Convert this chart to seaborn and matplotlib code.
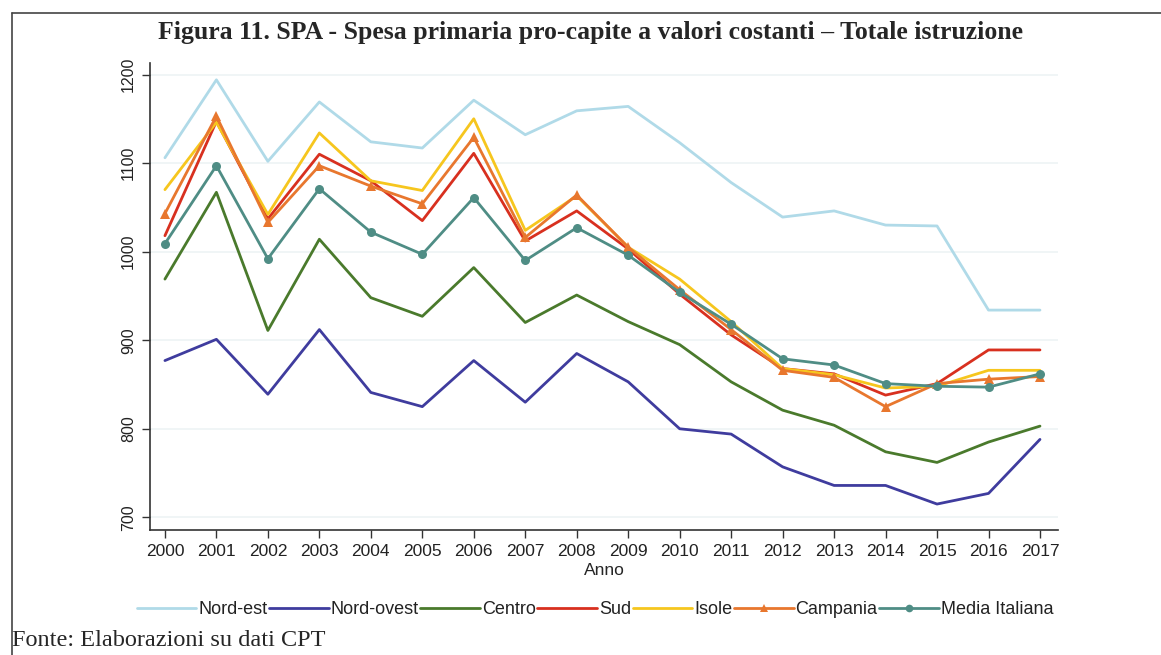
import numpy as np
import pandas as pd
import matplotlib
matplotlib.use("Agg")
import matplotlib.pyplot as plt
import seaborn as sns
from matplotlib.lines import Line2D

years = list(range(2000, 2018))
nord_est = [1106, 1194, 1102, 1169, 1124, 1117, 1171, 1132, 1159, 1164, 1123, 1078, 1039, 1046, 1030, 1029, 934, 934]
nord_ovest = [877, 901, 839, 912, 841, 825, 877, 830, 885, 853, 800, 794, 757, 736, 736, 715, 727, 788]
centro = [969, 1067, 911, 1014, 948, 927, 982, 920, 951, 921, 895, 853, 821, 804, 774, 762, 785, 803]
sud = [1018, 1147, 1037, 1110, 1080, 1035, 1111, 1012, 1046, 1003, 952, 906, 868, 862, 838, 851, 889, 889]
isole = [1070, 1146, 1042, 1134, 1080, 1069, 1150, 1024, 1063, 1005, 969, 921, 868, 861, 846, 848, 866, 866]
campania = [1043, 1153, 1033, 1097, 1074, 1054, 1129, 1016, 1064, 1005, 957, 912, 866, 858, 825, 851, 856, 859]
media = [1009, 1097, 992, 1071, 1022, 997, 1061, 990, 1027, 996, 954, 918, 879, 872, 851, 848, 847, 862]

series_names = ["Nord-est", "Nord-ovest", "Centro", "Sud", "Isole", "Campania", "Media Italiana"]
series_vals = [nord_est, nord_ovest, centro, sud, isole, campania, media]
colors = ["#b0dae8", "#3f3c9e", "#4a7a2c", "#d8301f", "#f6c61e", "#e8772e", "#4f8d85"]
markers = [None, None, None, None, None, "^", "o"]

sns.set_theme(style="white")
plt.rcParams['font.family'] = ['Liberation Sans', 'DejaVu Sans']

fig = plt.figure(figsize=(11.61, 6.55), dpi=100)
ax = fig.add_axes([150/1161, 1-530/655, (1058-150)/1161, (530-63)/655])

for name, vals, col, mk in zip(series_names, series_vals, colors, markers):
    sub = pd.DataFrame({"Anno": years, "val": vals})
    kw = dict(marker=mk, markersize=6.5, markeredgewidth=0) if mk else {}
    sns.lineplot(data=sub, x="Anno", y="val", ax=ax, color=col, linewidth=2, **kw)

ax.set_xlim(1999.71, 2017.35)
ax.set_ylim(685.7, 1213)
ax.set_xticks(years)
ax.set_xticklabels([str(y) for y in years], fontsize=12.5)
ax.set_yticks([700, 800, 900, 1000, 1100, 1200])
ax.set_yticklabels(["700", "800", "900", "1000", "1100", "1200"], fontsize=11.5, rotation=90, va="center")
ax.set_xlabel("Anno", fontsize=12.5, labelpad=3)
ax.set_ylabel("")
ax.grid(axis="y", color="#eef3f5", linewidth=1.2)
ax.grid(axis="x", visible=False)
for s in ["top", "right"]:
    ax.spines[s].set_visible(False)
for s in ["left", "bottom"]:
    ax.spines[s].set_color("#333333")
    ax.spines[s].set_linewidth(1.2)
ax.tick_params(axis="both", which="major", direction="out", length=6, width=1, color="#333333",
               bottom=True, left=True, pad=4, labelcolor="#222222")

fig.text(590/1161, 1-32/655, "Figura 11. SPA - Spesa primaria pro-capite a valori costanti \u2013 Totale istruzione",
         ha="center", va="center", fontsize=18.5, fontweight="bold", family=["Liberation Serif", "DejaVu Serif"])
fig.text(12/1161, 1-640/655, "Fonte: Elaborazioni su dati CPT", ha="left", va="center",
         fontsize=17.5, family=["Liberation Serif", "DejaVu Serif"])

handles = []
for name, col, mk in zip(series_names, colors, markers):
    handles.append(Line2D([0], [0], color=col, linewidth=2, marker=mk if mk else None,
                          markersize=5.5, markeredgewidth=0))
fig.legend(handles, series_names, loc="center", bbox_to_anchor=(595/1161, 1-610/655), ncol=7, frameon=False,
           fontsize=13, handlelength=3.3, handletextpad=0.1, columnspacing=0.1, labelcolor="#222222")

fig.add_artist(Line2D([12/1161, 1], [1-13/655, 1-13/655], transform=fig.transFigure, color="#444444", linewidth=1.2))
fig.add_artist(Line2D([12/1161, 12/1161], [0, 1-13/655], transform=fig.transFigure, color="#444444", linewidth=1.2))

fig.savefig("out.png", dpi=100)
